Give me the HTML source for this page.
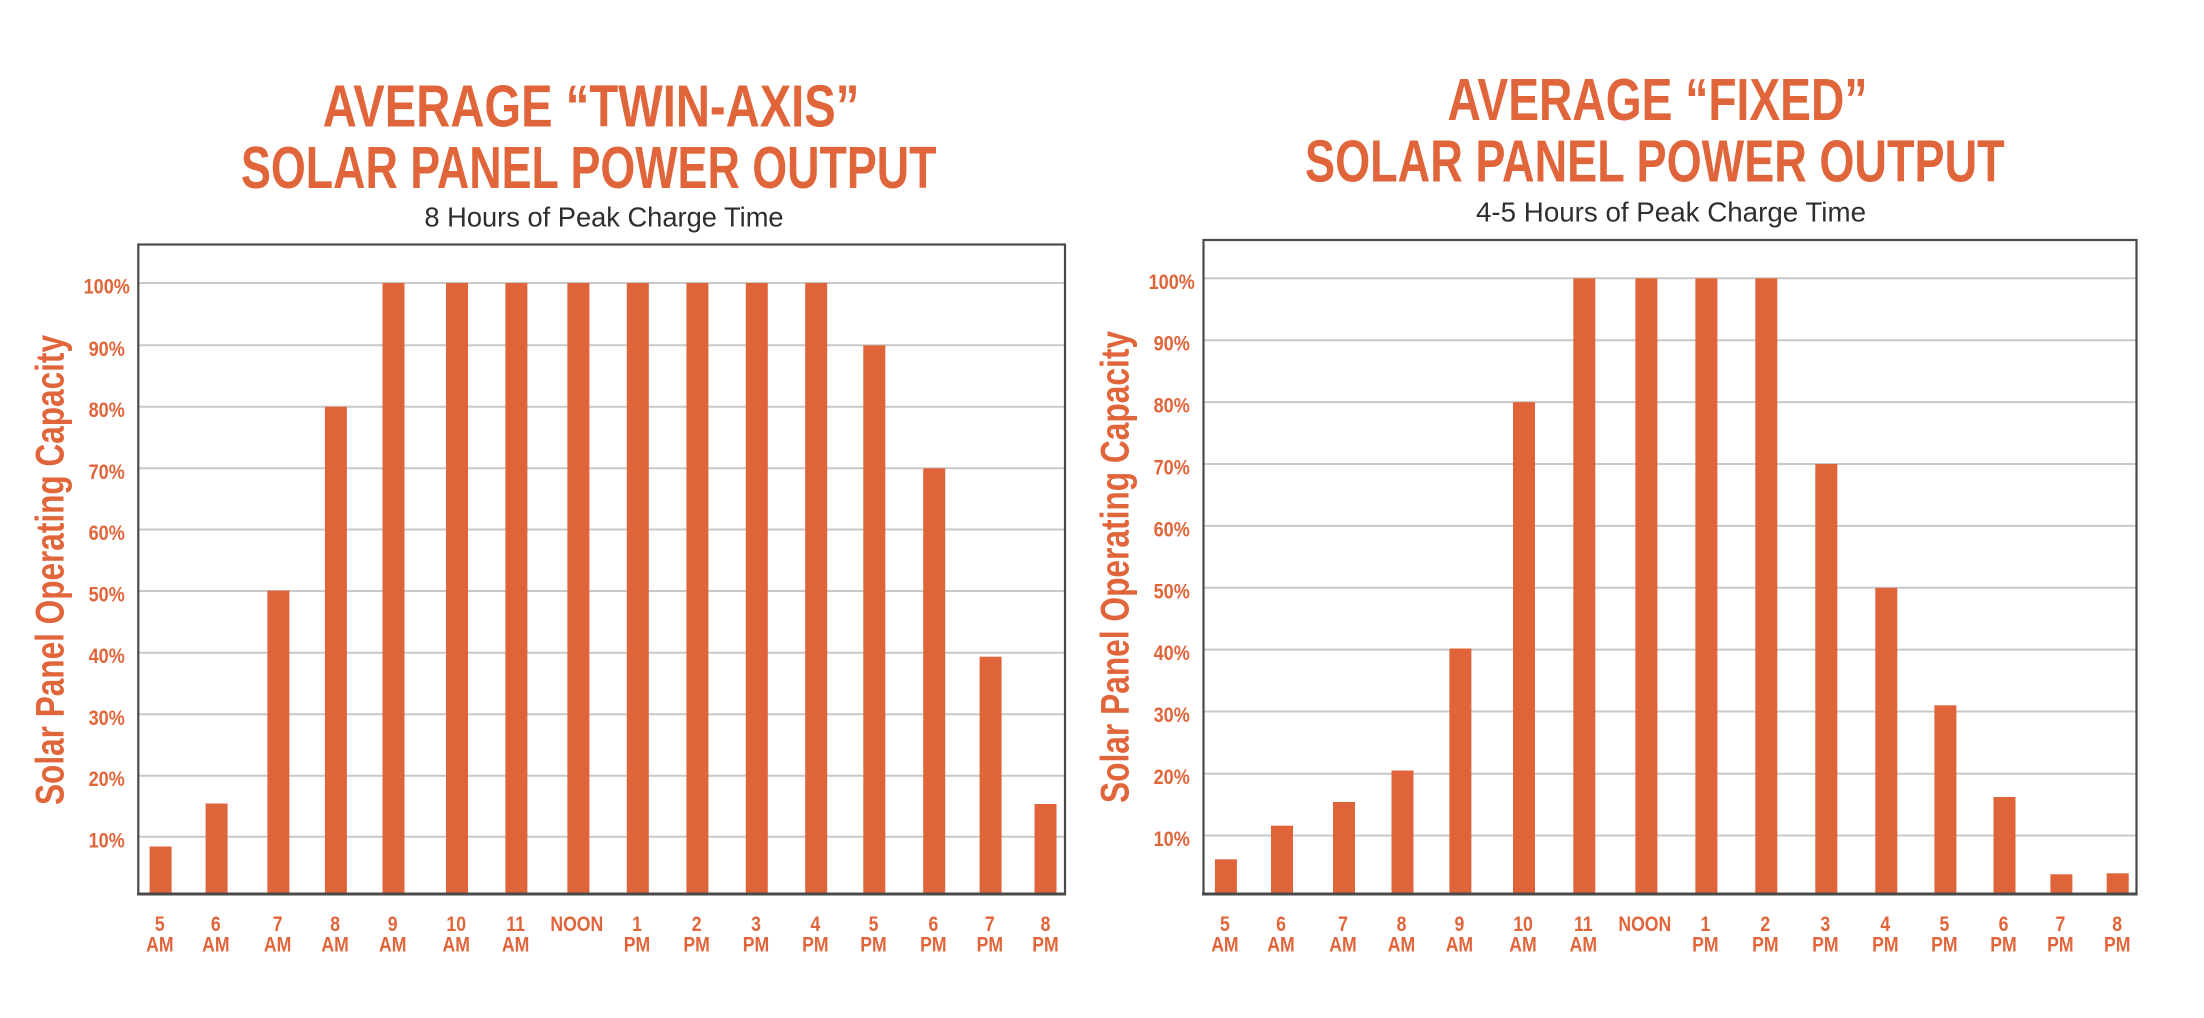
<!DOCTYPE html>
<html>
<head>
<meta charset="utf-8">
<style>
  html, body { margin: 0; padding: 0; background: #ffffff; }
  body { width: 2204px; height: 1018px; overflow: hidden; }
  svg { display: block; }
  .t { font-family: "Liberation Sans", Arial, sans-serif; font-weight: bold; fill: #E1653A; }
  .s { font-family: "Liberation Sans", Arial, sans-serif; font-weight: normal; fill: #2e2e2e; }
  .tk { font-family: "Liberation Sans", Arial, sans-serif; font-weight: bold; fill: #E1653A; font-size: 21px; }
</style>
</head>
<body>
<svg width="2204" height="1018" viewBox="0 0 2204 1018" xmlns="http://www.w3.org/2000/svg">
  <rect x="0" y="0" width="2204" height="1018" fill="#ffffff"/>

  <!-- ================= LEFT CHART ================= -->
  <text class="t" x="322.7" y="126.7" font-size="59" textLength="536.7" lengthAdjust="spacingAndGlyphs">AVERAGE “TWIN-AXIS”</text>
  <text class="t" x="241" y="187.8" font-size="59" textLength="695.5" lengthAdjust="spacingAndGlyphs">SOLAR PANEL POWER OUTPUT</text>
  <text class="s" x="424.4" y="226.7" font-size="28" textLength="359.2" lengthAdjust="spacingAndGlyphs">8 Hours of Peak Charge Time</text>

  <!-- gridlines -->
  <g stroke="#c8c8c8" stroke-width="2">
    <line x1="138" y1="283" x2="1065" y2="283"/>
    <line x1="138" y1="345.3" x2="1065" y2="345.3"/>
    <line x1="138" y1="406.7" x2="1065" y2="406.7"/>
    <line x1="138" y1="468.3" x2="1065" y2="468.3"/>
    <line x1="138" y1="529.5" x2="1065" y2="529.5"/>
    <line x1="138" y1="591" x2="1065" y2="591"/>
    <line x1="138" y1="652.7" x2="1065" y2="652.7"/>
    <line x1="138" y1="714.3" x2="1065" y2="714.3"/>
    <line x1="138" y1="775.7" x2="1065" y2="775.7"/>
    <line x1="138" y1="836.8" x2="1065" y2="836.8"/>
  </g>

  <!-- bars -->
  <g fill="#E0643A">
    <rect x="149.6" y="846.5" width="22" height="47.5"/>
    <rect x="205.6" y="803.5" width="22" height="90.5"/>
    <rect x="267.4" y="590.6" width="22" height="303.4"/>
    <rect x="324.9" y="406.7" width="22" height="487.3"/>
    <rect x="382.5" y="283" width="22" height="611"/>
    <rect x="446" y="283" width="22" height="611"/>
    <rect x="505.4" y="283" width="22" height="611"/>
    <rect x="567.4" y="283" width="22" height="611"/>
    <rect x="626.8" y="283" width="22" height="611"/>
    <rect x="686.4" y="283" width="22" height="611"/>
    <rect x="745.8" y="283" width="22" height="611"/>
    <rect x="805.2" y="283" width="22" height="611"/>
    <rect x="863.3" y="345.3" width="22" height="548.7"/>
    <rect x="923.2" y="468.3" width="22" height="425.7"/>
    <rect x="979.6" y="656.7" width="22" height="237.3"/>
    <rect x="1034.5" y="804" width="22" height="90"/>
  </g>

  <!-- frame -->
  <rect x="138.3" y="244.5" width="926.7" height="649.5" fill="none" stroke="#4a4a4a" stroke-width="2.2"/>
  <line x1="137" y1="894" x2="1066" y2="894" stroke="#4a4a4a" stroke-width="3"/>

  <!-- y tick labels -->
  <g class="tk" text-anchor="middle">
    <text transform="translate(106.7,293.5) scale(0.86,1)">100%</text>
    <text transform="translate(106.7,355.8) scale(0.86,1)">90%</text>
    <text transform="translate(106.7,417.2) scale(0.86,1)">80%</text>
    <text transform="translate(106.7,478.8) scale(0.86,1)">70%</text>
    <text transform="translate(106.7,540) scale(0.86,1)">60%</text>
    <text transform="translate(106.7,601.5) scale(0.86,1)">50%</text>
    <text transform="translate(106.7,663.2) scale(0.86,1)">40%</text>
    <text transform="translate(106.7,724.8) scale(0.86,1)">30%</text>
    <text transform="translate(106.7,786.2) scale(0.86,1)">20%</text>
    <text transform="translate(106.7,847.3) scale(0.86,1)">10%</text>
  </g>

  <!-- y axis title -->
  <text class="t" font-size="40" transform="translate(63.3,805) rotate(-90)" textLength="470" lengthAdjust="spacingAndGlyphs">Solar Panel Operating Capacity</text>

  <!-- x tick labels -->
  <g class="tk" text-anchor="middle">
    <text transform="translate(159.8,931) scale(0.84,1)">5</text>
    <text transform="translate(159.8,951.5) scale(0.84,1)">AM</text>
    <text transform="translate(215.8,931) scale(0.84,1)">6</text>
    <text transform="translate(215.8,951.5) scale(0.84,1)">AM</text>
    <text transform="translate(277.6,931) scale(0.84,1)">7</text>
    <text transform="translate(277.6,951.5) scale(0.84,1)">AM</text>
    <text transform="translate(335.1,931) scale(0.84,1)">8</text>
    <text transform="translate(335.1,951.5) scale(0.84,1)">AM</text>
    <text transform="translate(392.7,931) scale(0.84,1)">9</text>
    <text transform="translate(392.7,951.5) scale(0.84,1)">AM</text>
    <text transform="translate(456.2,931) scale(0.84,1)">10</text>
    <text transform="translate(456.2,951.5) scale(0.84,1)">AM</text>
    <text transform="translate(515.6,931) scale(0.84,1)">11</text>
    <text transform="translate(515.6,951.5) scale(0.84,1)">AM</text>
    <text transform="translate(576.8,931) scale(0.84,1)">NOON</text>
    <text transform="translate(637,931) scale(0.84,1)">1</text>
    <text transform="translate(637,951.5) scale(0.84,1)">PM</text>
    <text transform="translate(696.6,931) scale(0.84,1)">2</text>
    <text transform="translate(696.6,951.5) scale(0.84,1)">PM</text>
    <text transform="translate(756,931) scale(0.84,1)">3</text>
    <text transform="translate(756,951.5) scale(0.84,1)">PM</text>
    <text transform="translate(815.4,931) scale(0.84,1)">4</text>
    <text transform="translate(815.4,951.5) scale(0.84,1)">PM</text>
    <text transform="translate(873.5,931) scale(0.84,1)">5</text>
    <text transform="translate(873.5,951.5) scale(0.84,1)">PM</text>
    <text transform="translate(933.4,931) scale(0.84,1)">6</text>
    <text transform="translate(933.4,951.5) scale(0.84,1)">PM</text>
    <text transform="translate(989.8,931) scale(0.84,1)">7</text>
    <text transform="translate(989.8,951.5) scale(0.84,1)">PM</text>
    <text transform="translate(1045.5,931) scale(0.84,1)">8</text>
    <text transform="translate(1045.5,951.5) scale(0.84,1)">PM</text>
  </g>

  <!-- ================= RIGHT CHART ================= -->
  <text class="t" x="1447.5" y="120" font-size="59" textLength="419.9" lengthAdjust="spacingAndGlyphs">AVERAGE “FIXED”</text>
  <text class="t" x="1305" y="181.3" font-size="59" textLength="699.7" lengthAdjust="spacingAndGlyphs">SOLAR PANEL POWER OUTPUT</text>
  <text class="s" x="1476" y="221.7" font-size="28" textLength="390" lengthAdjust="spacingAndGlyphs">4-5 Hours of Peak Charge Time</text>

  <g stroke="#c8c8c8" stroke-width="2">
    <line x1="1203" y1="278.3" x2="2137" y2="278.3"/>
    <line x1="1203" y1="340.2" x2="2137" y2="340.2"/>
    <line x1="1203" y1="402.1" x2="2137" y2="402.1"/>
    <line x1="1203" y1="464" x2="2137" y2="464"/>
    <line x1="1203" y1="525.9" x2="2137" y2="525.9"/>
    <line x1="1203" y1="587.8" x2="2137" y2="587.8"/>
    <line x1="1203" y1="649.6" x2="2137" y2="649.6"/>
    <line x1="1203" y1="711.5" x2="2137" y2="711.5"/>
    <line x1="1203" y1="773.7" x2="2137" y2="773.7"/>
    <line x1="1203" y1="835.5" x2="2137" y2="835.5"/>
  </g>

  <g fill="#E0643A">
    <rect x="1214.9" y="859.3" width="22" height="34.7"/>
    <rect x="1271" y="825.7" width="22" height="68.3"/>
    <rect x="1333" y="802" width="22" height="92"/>
    <rect x="1391.5" y="770.5" width="22" height="123.5"/>
    <rect x="1449.4" y="648.5" width="22" height="245.5"/>
    <rect x="1513" y="402.1" width="22" height="491.9"/>
    <rect x="1573.3" y="278.3" width="22" height="615.7"/>
    <rect x="1635.4" y="278.3" width="22" height="615.7"/>
    <rect x="1695.4" y="278.3" width="22" height="615.7"/>
    <rect x="1755.3" y="278.3" width="22" height="615.7"/>
    <rect x="1815.3" y="464" width="22" height="430"/>
    <rect x="1875.3" y="587.8" width="22" height="306.2"/>
    <rect x="1934.4" y="705.3" width="22" height="188.7"/>
    <rect x="1993.5" y="797" width="22" height="97"/>
    <rect x="2050.4" y="874.3" width="22" height="19.7"/>
    <rect x="2106.7" y="873.3" width="22" height="20.7"/>
  </g>

  <rect x="1203.5" y="240" width="933" height="654" fill="none" stroke="#4a4a4a" stroke-width="2.2"/>
  <line x1="1202" y1="894" x2="2137.5" y2="894" stroke="#4a4a4a" stroke-width="3"/>

  <g class="tk" text-anchor="middle">
    <text transform="translate(1171.7,288.8) scale(0.86,1)">100%</text>
    <text transform="translate(1171.7,350.7) scale(0.86,1)">90%</text>
    <text transform="translate(1171.7,412.6) scale(0.86,1)">80%</text>
    <text transform="translate(1171.7,474.5) scale(0.86,1)">70%</text>
    <text transform="translate(1171.7,536.4) scale(0.86,1)">60%</text>
    <text transform="translate(1171.7,598.3) scale(0.86,1)">50%</text>
    <text transform="translate(1171.7,660.1) scale(0.86,1)">40%</text>
    <text transform="translate(1171.7,722) scale(0.86,1)">30%</text>
    <text transform="translate(1171.7,784.2) scale(0.86,1)">20%</text>
    <text transform="translate(1171.7,846) scale(0.86,1)">10%</text>
  </g>

  <text class="t" font-size="40" transform="translate(1128.3,803) rotate(-90)" textLength="472" lengthAdjust="spacingAndGlyphs">Solar Panel Operating Capacity</text>

  <g class="tk" text-anchor="middle">
    <text transform="translate(1224.9,931) scale(0.84,1)">5</text>
    <text transform="translate(1224.9,951.5) scale(0.84,1)">AM</text>
    <text transform="translate(1281,931) scale(0.84,1)">6</text>
    <text transform="translate(1281,951.5) scale(0.84,1)">AM</text>
    <text transform="translate(1343,931) scale(0.84,1)">7</text>
    <text transform="translate(1343,951.5) scale(0.84,1)">AM</text>
    <text transform="translate(1401.5,931) scale(0.84,1)">8</text>
    <text transform="translate(1401.5,951.5) scale(0.84,1)">AM</text>
    <text transform="translate(1459.4,931) scale(0.84,1)">9</text>
    <text transform="translate(1459.4,951.5) scale(0.84,1)">AM</text>
    <text transform="translate(1523,931) scale(0.84,1)">10</text>
    <text transform="translate(1523,951.5) scale(0.84,1)">AM</text>
    <text transform="translate(1583.3,931) scale(0.84,1)">11</text>
    <text transform="translate(1583.3,951.5) scale(0.84,1)">AM</text>
    <text transform="translate(1644.8,931) scale(0.84,1)">NOON</text>
    <text transform="translate(1705.4,931) scale(0.84,1)">1</text>
    <text transform="translate(1705.4,951.5) scale(0.84,1)">PM</text>
    <text transform="translate(1765.3,931) scale(0.84,1)">2</text>
    <text transform="translate(1765.3,951.5) scale(0.84,1)">PM</text>
    <text transform="translate(1825.3,931) scale(0.84,1)">3</text>
    <text transform="translate(1825.3,951.5) scale(0.84,1)">PM</text>
    <text transform="translate(1885.3,931) scale(0.84,1)">4</text>
    <text transform="translate(1885.3,951.5) scale(0.84,1)">PM</text>
    <text transform="translate(1944.4,931) scale(0.84,1)">5</text>
    <text transform="translate(1944.4,951.5) scale(0.84,1)">PM</text>
    <text transform="translate(2003.5,931) scale(0.84,1)">6</text>
    <text transform="translate(2003.5,951.5) scale(0.84,1)">PM</text>
    <text transform="translate(2060.4,931) scale(0.84,1)">7</text>
    <text transform="translate(2060.4,951.5) scale(0.84,1)">PM</text>
    <text transform="translate(2117.2,931) scale(0.84,1)">8</text>
    <text transform="translate(2117.2,951.5) scale(0.84,1)">PM</text>
  </g>
</svg>
</body>
</html>
